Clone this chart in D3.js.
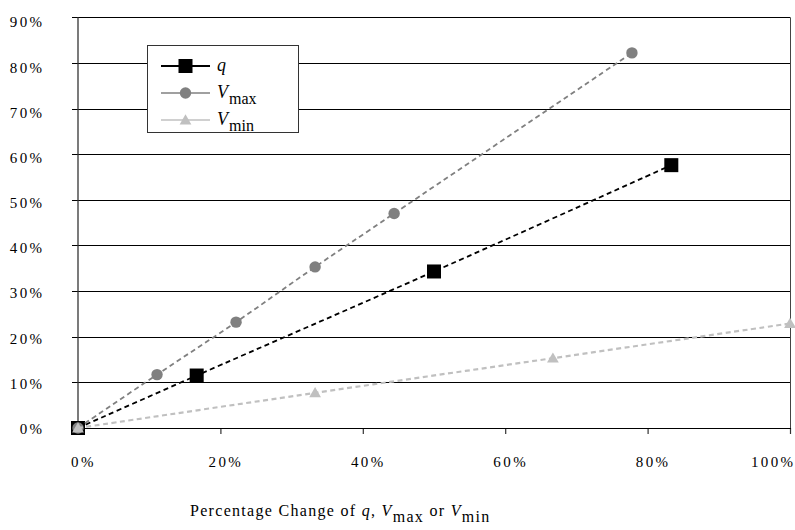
<!DOCTYPE html>
<html><head><meta charset="utf-8">
<script src="https://cdn.jsdelivr.net/npm/d3@7"></script>
<style>
body{margin:0;background:#fff;}
text{font-family:"Liberation Serif","Times New Roman",serif;fill:#000;}
</style></head>
<body><svg id="c" width="795" height="530"></svg>
<script>
// ---- data ----
const xTicks = [0, 0.2, 0.4, 0.6, 0.8, 1.0];
const yTicks = [0, 0.1, 0.2, 0.3, 0.4, 0.5, 0.6, 0.7, 0.8, 0.9];
const qX = [0, 0.1667, 0.5, 0.8333];
const qY = [0, 0.115, 0.343, 0.576];
const vmaxX = [0, 0.111, 0.222, 0.333, 0.444, 0.778];
const vmaxY = [0, 0.117, 0.232, 0.353, 0.470, 0.822];
const vminX = [0, 0.333, 0.667, 1.0];
const vminY = [0, 0.077, 0.153, 0.229];
const seriesNames = ["q", "V", "V"];
const seriesSubs = ["", "max", "min"];

const svg = d3.select("#c");
const x = d3.scaleLinear().domain([0, 1]).range([78, 790]);
const y = d3.scaleLinear().domain([0, 0.9]).range([428, 17.3]);
const fmt = d3.format(".0%");

// gridlines + y axis (ticks extend left as gridline extension)
const yAxis = d3.axisLeft(y).tickValues(yTicks).tickFormat(fmt)
  .tickSize(-(790 - 72)).tickPadding(0);
const gy = svg.append("g").attr("transform", "translate(72,0)").call(yAxis);
gy.select(".domain").remove();
gy.selectAll(".tick line").attr("stroke", "#000").attr("stroke-width", 1)
  .attr("shape-rendering", "crispEdges");
gy.selectAll(".tick text").attr("x", -27.5).attr("dy", "0.36em")
  .attr("y", d => 4.2 * d / 0.9)
  .style("font-size", "15px").style("letter-spacing", "2.4px");

// left axis line and right border
svg.append("line").attr("x1", 78).attr("x2", 78).attr("y1", y(0.9)).attr("y2", y(0))
  .attr("stroke", "#333").attr("stroke-width", 1.3);
svg.append("line").attr("x1", 790.5).attr("x2", 790.5).attr("y1", y(0.9)).attr("y2", y(0) + 6)
  .attr("stroke", "#444").attr("stroke-width", 1);

// x axis
const xAxis = d3.axisBottom(x).tickValues(xTicks).tickFormat(fmt).tickSize(6).tickPadding(0);
const gx = svg.append("g").attr("transform", `translate(0,${y(0)})`).call(xAxis);
gx.select(".domain").remove();
gx.selectAll(".tick line").attr("stroke", "#333").attr("stroke-width", 1.2);
gx.selectAll(".tick text").attr("y", 39).attr("dy", "0")
  .attr("dx", d => d === 1 ? 5 : 5)
  .attr("text-anchor", d => d === 1 ? "end" : "middle")
  .style("font-size", "15px").style("letter-spacing", "2.4px");
svg.append("line").attr("x1", 72).attr("x2", 791).attr("y1", Math.round(y(0)) + 0.5).attr("y2", Math.round(y(0)) + 0.5)
  .attr("stroke", "#000").attr("stroke-width", 1);

// series
const series = [
  {xs: qX, ys: qY, color: "#000", w: 1.8, marker: "square"},
  {xs: vmaxX, ys: vmaxY, color: "#808080", w: 1.8, marker: "circle"},
  {xs: vminX, ys: vminY, color: "#c0c0c0", w: 2.2, marker: "triangle"}
];
const line = d3.line().x(d => x(d[0])).y(d => y(d[1])).curve(d3.curveCatmullRom.alpha(0.5));

function drawMarker(g, type, cx, cy, color) {
  if (type === "square") {
    const s = 14;
    g.append("rect").attr("x", cx - s / 2).attr("y", cy - s / 2).attr("width", s).attr("height", s).attr("fill", "#000");
  } else if (type === "circle") {
    g.append("circle").attr("cx", cx).attr("cy", cy).attr("r", 5.7).attr("fill", color);
  } else {
    g.append("path").attr("d", d3.symbol().type(d3.symbolTriangle).size(60)())
      .attr("transform", `translate(${cx},${cy + 1})`).attr("fill", color);
  }
}

series.forEach(s => {
  const pts = s.xs.map((v, i) => [v, s.ys[i]]);
  const g = svg.append("g");
  g.append("path").attr("d", line(pts)).attr("fill", "none").attr("stroke", s.color)
    .attr("stroke-width", s.w).attr("stroke-dasharray", "5,3.5");
  pts.forEach(p => drawMarker(g, s.marker, x(p[0]), y(p[1]), s.color));
});

// legend
const lg = svg.append("g");
lg.append("rect").attr("x", 147.5).attr("y", 45.5).attr("width", 151).attr("height", 87)
  .attr("fill", "#fff").attr("stroke", "#333").attr("stroke-width", 1);
const rowsY = [66, 93, 120];
series.forEach((s, i) => {
  lg.append("line").attr("x1", 161).attr("x2", 210).attr("y1", rowsY[i]).attr("y2", rowsY[i])
    .attr("stroke", s.color).attr("stroke-width", i === 0 ? 1.8 : 1.3);
  drawMarker(lg, s.marker, 185.5, rowsY[i], s.color);
  const t = lg.append("text").attr("x", 217).attr("y", rowsY[i] + 5).style("font-size", "18px");
  t.append("tspan").style("font-style", "italic").text(seriesNames[i]);
  if (seriesSubs[i]) t.append("tspan").attr("dy", 6).attr("dx", 1).style("font-size", "16px").text(seriesSubs[i]);
});

// x axis title
const tt = svg.append("text").attr("x", 190).attr("y", 516).style("font-size", "16px").style("letter-spacing", "1.3px");
tt.append("tspan").text("Percentage Change of ");
tt.append("tspan").style("font-style", "italic").text("q");
tt.append("tspan").text(", ");
tt.append("tspan").style("font-style", "italic").text("V");
tt.append("tspan").attr("dy", 6).text("max");
tt.append("tspan").attr("dy", -6).text(" or ");
tt.append("tspan").style("font-style", "italic").text("V");
tt.append("tspan").attr("dy", 6).text("min");
</script></body></html>
